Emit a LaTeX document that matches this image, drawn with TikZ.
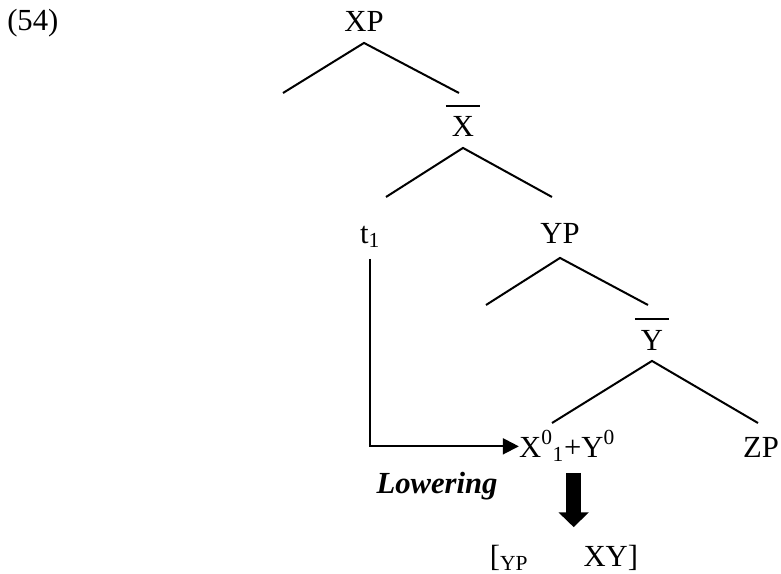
\documentclass[tikz,border=0pt]{standalone}
\usepackage{fontspec}
\setmainfont{Liberation Serif}
\usetikzlibrary{arrows.meta}
\newcommand{\barcat}[1]{\vbox{\hrule height 1.3pt\kern 7.5pt
  \hbox{\hspace{0.2em}#1\hspace{0.2em}}}}
\tikzset{
  cat/.style={inner xsep=0pt,inner ysep=8pt,anchor=base,
              font=\fontsize{23}{27}\selectfont},
  branch/.style={line width=1.5pt},
  movearr/.style={-{Triangle[length=12pt,width=12pt]},line width=1.5pt},
  bigarr/.style={-{Triangle[length=11pt,width=22pt]},line width=11pt,
                 shorten >=5pt}
}
\begin{document}
\begin{tikzpicture}[x=0.75pt,y=-0.75pt]
  \useasboundingbox (0,0) rectangle (781,574);
  \node[cat,anchor=base west] (exnum) at (7,31) {(54)};
  \node[cat] (xp) at (364,32) {XP};
  \node[cat] (xbar) at (463,137) {\barcat{X}};
  \node[cat] (t1) at (370,243) {t\textsubscript{1}};
  \node[cat,inner ysep=11pt] (yp) at (560,243) {YP};
  \node[cat] (ybar) at (652,350) {\barcat{Y}};
  \node[cat] (xy0) at (567,457)
    {X\textsuperscript{0}\textsubscript{1}+Y\textsuperscript{0}};
  \node[cat] (zp) at (761,457) {ZP};
  \node[cat,font=\fontsize{23}{27}\selectfont\bfseries\itshape] (lower)
    at (437,493) {Lowering};
  \node[cat] (merged) at (564,566) {[\textsubscript{YP}\hspace{1.8em}XY]};

  \coordinate (xpL) at (283,93);   \coordinate (xpR) at (459,93);
  \coordinate (xbarL) at (386,197); \coordinate (xbarR) at (552,197);
  \coordinate (ypL) at (486,305);  \coordinate (ypR) at (648,305);
  \coordinate (ybarL) at (552,423); \coordinate (ybarR) at (758,423);
  \draw[branch] (xpL) -- (xp.south) -- (xpR);
  \draw[branch] (xbarL) -- (xbar.south) -- (xbarR);
  \draw[branch] (ypL) -- (yp.south) -- (ypR);
  \draw[branch] (ybarL) -- (ybar.south) -- (ybarR);
  \draw[movearr] (t1.south) |- (xy0.west);
  \draw[bigarr] ([xshift=5pt]xy0.south) -- ([xshift=5pt]xy0.south |- merged.north);
\end{tikzpicture}
\end{document}
